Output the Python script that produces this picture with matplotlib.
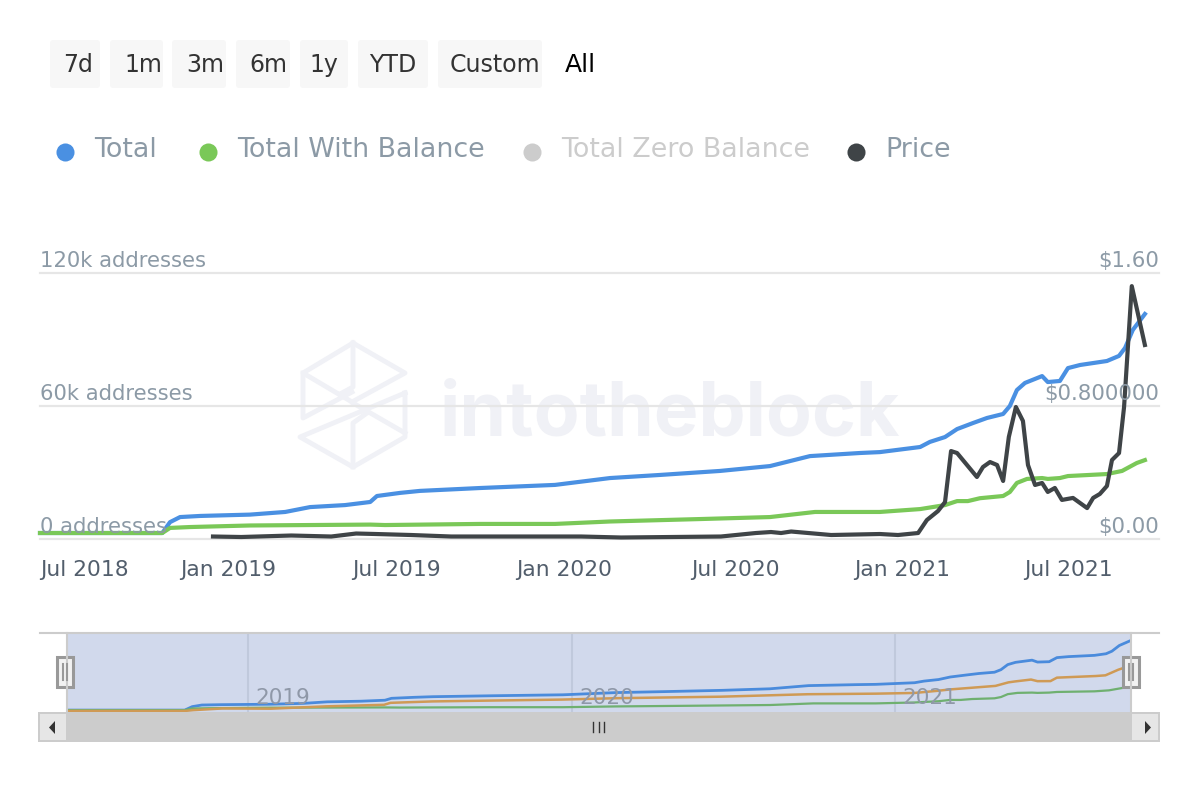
import matplotlib
matplotlib.use("Agg")
import matplotlib.pyplot as plt
from matplotlib.patches import FancyBboxPatch, Rectangle, Polygon

plt.rcParams["font.family"] = ["DejaVu Sans"]

# anos decimais
total_x = [2018.440, 2018.804, 2018.827, 2018.857, 2018.917, 2019.065, 2019.170, 2019.244, 2019.348, 2019.423,
           2019.443, 2019.512, 2019.571, 2019.750, 2019.973, 2020.137, 2020.286, 2020.464, 2020.613, 2020.732,
           2020.881, 2020.940, 2021.060, 2021.089, 2021.134, 2021.170, 2021.217, 2021.259, 2021.307, 2021.327,
           2021.348, 2021.372, 2021.423, 2021.440, 2021.476, 2021.500, 2021.536, 2021.616, 2021.652, 2021.670,
           2021.693, 2021.729]
total_y = [2.7, 2.7, 7.6, 9.9, 10.4, 11.0, 12.2, 14.4, 15.3, 16.7,
           19.4, 20.8, 21.7, 23.0, 24.4, 27.5, 28.9, 30.7, 32.9, 37.4,
           38.8, 39.2, 41.5, 43.8, 46.0, 49.6, 52.3, 54.6, 56.4, 60.0,
           67.2, 70.4, 73.5, 70.8, 71.3, 77.1, 78.5, 80.3, 82.6, 86.2,
           94.3, 101.5]

balance_x = [2018.440, 2018.804, 2018.827, 2018.887, 2019.065, 2019.423, 2019.467, 2019.750, 2019.973, 2020.137,
             2020.405, 2020.613, 2020.747, 2020.940, 2021.060, 2021.134, 2021.170, 2021.202, 2021.238, 2021.307,
             2021.327, 2021.348, 2021.378, 2021.423, 2021.440, 2021.476, 2021.500, 2021.616, 2021.661, 2021.705,
             2021.729]
balance_y = [2.7, 2.7, 5.0, 5.4, 6.1, 6.5, 6.3, 6.8, 6.8, 7.9,
             9.0, 9.9, 12.2, 12.2, 13.5, 15.3, 17.1, 17.1, 18.4, 19.4,
             21.2, 25.3, 27.1, 27.5, 27.1, 27.5, 28.4, 29.3, 30.7, 34.3,
             35.6]

zero_x = [2018.440, 2018.804, 2018.830, 2018.920, 2019.070, 2019.240, 2019.420, 2019.440, 2019.570, 2019.750,
          2019.970, 2020.140, 2020.460, 2020.730, 2020.940, 2021.060, 2021.130, 2021.170, 2021.310, 2021.350,
          2021.370, 2021.420, 2021.440, 2021.480, 2021.500, 2021.620, 2021.650, 2021.690, 2021.729]
zero_y = [1.5, 1.5, 2.6, 5.0, 4.7, 8.0, 10.2, 13.0, 15.0, 16.2,
          17.6, 19.6, 21.7, 25.2, 26.0, 27.0, 30.0, 32.0, 37.0, 42.0,
          43.3, 46.0, 43.7, 43.8, 48.7, 51.0, 52.0, 60.0, 66.0]

price_x = [2018.955, 2019.039, 2019.188, 2019.307, 2019.381, 2019.440, 2019.545, 2019.664, 2020.051, 2020.170,
           2020.467, 2020.571, 2020.616, 2020.646, 2020.676, 2020.795, 2020.940, 2020.994, 2021.054, 2021.080,
           2021.113, 2021.134, 2021.152, 2021.170, 2021.229, 2021.247, 2021.268, 2021.289, 2021.307, 2021.324,
           2021.345, 2021.366, 2021.381, 2021.402, 2021.423, 2021.440, 2021.461, 2021.482, 2021.515, 2021.557,
           2021.575, 2021.595, 2021.616, 2021.631, 2021.652, 2021.667, 2021.690, 2021.729]
price_y = [0.015, 0.012, 0.021, 0.015, 0.033, 0.030, 0.024, 0.015, 0.015, 0.009,
           0.015, 0.036, 0.042, 0.036, 0.045, 0.024, 0.030, 0.024, 0.036, 0.114,
           0.168, 0.222, 0.529, 0.517, 0.373, 0.433, 0.463, 0.445, 0.349, 0.614,
           0.794, 0.710, 0.445, 0.325, 0.337, 0.283, 0.307, 0.235, 0.247, 0.186,
           0.247, 0.271, 0.319, 0.475, 0.517, 0.794, 1.521, 1.167]

x_ticks = [2018.5, 2019.0, 2019.5, 2020.0, 2020.51, 2021.005, 2021.5]
x_labels = ["Jul 2018", "Jan 2019", "Jul 2019", "Jan 2020", "Jul 2020", "Jan 2021", "Jul 2021"]
left_ticks = [0, 60, 120]
left_labels = ["0 addresses", "60k addresses", "120k addresses"]
right_ticks = [0, 0.8, 1.6]
right_labels = ["$0.00", "$0.800000", "$1.60"]
nav_ticks = [2019, 2020, 2021]
botoes = ["7d", "1m", "3m", "6m", "1y", "YTD", "Custom"]
legenda = ["Total", "Total With Balance", "Total Zero Balance", "Price"]

AZUL = "#4a90e2"
VERDE = "#7ac858"
CINZA = "#3f4447"
TEXTO = "#8c9aa6"

W, H = 1200, 800
fig = plt.figure(figsize=(12, 8), dpi=100)


def caixa(x0, y0, x1, y1):
    # caixa em pixels da imagem
    return [x0 / W, 1 - y1 / H, (x1 - x0) / W, (y1 - y0) / H]


# camada de fundo em pixels: botoes, legenda, marca d'agua
bg = fig.add_axes([0, 0, 1, 1], zorder=0)
bg.set_xlim(0, W)
bg.set_ylim(H, 0)
bg.axis("off")

bot_pos = [(50, 100, 78), (110, 163, 143), (172, 226, 205), (236, 290, 268), (300, 348, 324), (358, 428, 393),
           (438, 542, 495)]
for nome, (a, b, xt) in zip(botoes, bot_pos):
    bg.add_patch(FancyBboxPatch((a + 2, 42), b - a - 4, 44, boxstyle="round,pad=2,rounding_size=3",
                                fc="#f7f7f7", ec="none"))
    bg.text(xt, 65, nome, ha="center", va="center", fontsize=17, color="#333333")
bg.text(580, 65, "All", ha="center", va="center", fontsize=18, color="black")

leg_pos = [(65, 94, AZUL, TEXTO), (208, 237, VERDE, TEXTO), (532, 561, "#cccccc", "#cccccc"), (856, 885, CINZA, TEXTO)]
for nome, (xm, xt, cor, ct) in zip(legenda, leg_pos):
    bg.plot([xm], [152], "o", ms=13, color=cor, mew=0)
    bg.text(xt, 150, nome, ha="left", va="center", fontsize=19.4, color=ct)

# marca d'agua
WM = "#f0f1f6"
logo = [
    [(353, 343), (405, 373), (352, 402), (303, 373), (353, 343)],
    [(303, 373), (303, 418), (352, 392)],
    [(353, 343), (353, 387), (340, 394)],
    [(405, 393), (405, 437), (353, 467), (300, 437), (405, 393)],
    [(353, 467), (353, 423), (367, 413)],
    [(405, 433), (353, 403)],
]
for trecho in logo:
    bg.plot([p[0] for p in trecho], [p[1] for p in trecho], color=WM, lw=3.5)
bg.text(440, 436, "intotheblock", ha="left", va="baseline", fontsize=54, color=WM, family="Inter", fontweight="bold")

# grafico principal
ax = fig.add_axes(caixa(40, 273, 1159, 539), zorder=1)
ax.patch.set_alpha(0)
ax.set_xlim(2018.440, 2021.771)
ax.set_ylim(0, 120)
for s in ax.spines.values():
    s.set_visible(False)
ax.set_xticks([])
ax.set_yticks(left_ticks)
ax.set_yticklabels([])
ax.tick_params(length=0)
ax.grid(axis="y", color="#e6e6e6", lw=1.6)
for g in ax.get_ygridlines():
    g.set_clip_on(False)
ax.set_axisbelow(True)
ax.plot(total_x, total_y, color=AZUL, lw=3, clip_on=False)
ax.plot(balance_x, balance_y, color=VERDE, lw=3, clip_on=False)

ax2 = ax.twinx()
ax2.set_ylim(0, 1.6)
ax2.set_yticks([])
for s in ax2.spines.values():
    s.set_visible(False)
ax2.plot(price_x, price_y, color=CINZA, lw=3, clip_on=False)

for v, nome in zip(left_ticks, left_labels):
    ax.annotate(nome, (0, v), xycoords=ax.get_yaxis_transform(), xytext=(0, 1.5), textcoords="offset points",
                ha="left", va="bottom", fontsize=15.2, color=TEXTO)
for v, nome in zip(right_ticks, right_labels):
    ax2.annotate(nome, (1, v), xycoords=ax2.get_yaxis_transform(), xytext=(0, 1.5), textcoords="offset points",
                 ha="right", va="bottom", fontsize=15.3, color=TEXTO)
for i, (v, nome) in enumerate(zip(x_ticks, x_labels)):
    # o primeiro rotulo fica encostado na borda esquerda
    if i == 0:
        ax.annotate(nome, (0, 0), xycoords="axes fraction", xytext=(0, -27), textcoords="offset points",
                    ha="left", va="baseline", fontsize=15.7, color="#525e6c")
    else:
        ax.annotate(nome, (v, 0), xycoords=ax.get_xaxis_transform(), xytext=(0, -27), textcoords="offset points",
                    ha="center", va="baseline", fontsize=15.7, color="#525e6c")

# navegador
nav = fig.add_axes(caixa(67, 633, 1131, 712), zorder=1)
nav.set_facecolor("#d1d9ec")
nav.set_xlim(2018.440, 2021.729)
nav.set_ylim(0, 112)
for s in nav.spines.values():
    s.set_visible(False)
nav.set_xticks(nav_ticks)
nav.set_xticklabels([])
nav.set_yticks([])
nav.tick_params(length=0)
nav.grid(axis="x", color="#c0c9dc", lw=1.5)
nav.set_axisbelow(True)
for v in nav_ticks:
    nav.annotate(str(v), (v, 0), xycoords=nav.get_xaxis_transform(), xytext=(5.5, 3), textcoords="offset points",
                 ha="left", va="bottom", fontsize=15.5, color="#8f98a8")
nav.plot(total_x, total_y, color="#4a8bdc", lw=2)
nav.plot(balance_x, balance_y, color="#6fb070", lw=1.6)
nav.plot(zero_x, zero_y, color="#cf9a55", lw=1.8)

# cromo do navegador em pixels
fg = fig.add_axes([0, 0, 1, 1], zorder=2)
fg.patch.set_alpha(0)
fg.set_xlim(0, W)
fg.set_ylim(H, 0)
fg.axis("off")
fg.plot([40, 1159], [632.5, 632.5], color="#cccccc", lw=1.5)
fg.plot([67, 67], [633, 712], color="#cccccc", lw=1.5)
fg.plot([1131, 1131], [633, 712], color="#cccccc", lw=1.5)
fg.add_patch(Rectangle((38, 712), 1122, 30, fc="#cccccc", ec="none"))
fg.add_patch(Rectangle((40, 714), 26, 26, fc="#e6e6e6", ec="none"))
fg.add_patch(Rectangle((1132, 714), 26, 26, fc="#e6e6e6", ec="none"))
fg.add_patch(Polygon([(55, 721), (55, 734), (49, 727.5)], closed=True, fc="#333333", ec="none"))
fg.add_patch(Polygon([(1145, 721), (1145, 734), (1151, 727.5)], closed=True, fc="#333333", ec="none"))
for xv in (593, 598.5, 604):
    fg.plot([xv, xv], [722, 732], color="#333333", lw=1)
for xc in (65, 1131):
    fg.add_patch(Rectangle((xc - 8, 657), 16, 30, fc="#f2f2f2", ec="#999999", lw=2.2))
    for d in (-2, 2):
        fg.plot([xc + d, xc + d], [664, 680], color="#999999", lw=1.5)

fig.savefig("out.png", dpi=100)
